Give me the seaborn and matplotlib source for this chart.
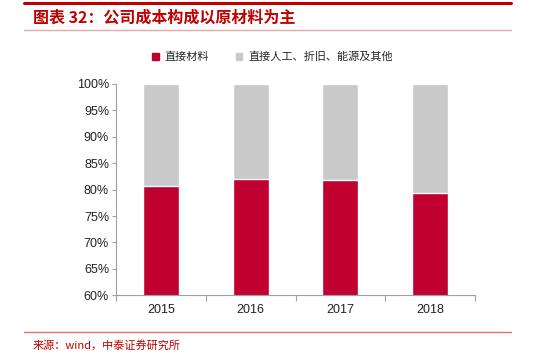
import matplotlib
matplotlib.use("Agg")
import matplotlib.pyplot as plt
import seaborn as sns
import pandas as pd
from matplotlib.lines import Line2D
from matplotlib.patches import Patch

years = ["2015", "2016", "2017", "2018"]
material = [80.7, 82.1, 81.9, 79.4]
total = [100, 100, 100, 100]
series_names = ["直接材料", "直接人工、折旧、能源及其他"]
yticks = [60, 65, 70, 75, 80, 85, 90, 95, 100]

sns.set_theme(style="white")
plt.rcParams['font.family'] = ['Liberation Sans', 'Noto Sans CJK SC', 'DejaVu Sans']

RED = "#C00030"
GREY = "#C9C9C9"

fig = plt.figure(figsize=(5.45, 3.59), dpi=100)
ax = fig.add_axes([116/545, 1-295.3/359, (475-116)/545, (295.3-84)/359])

df = pd.DataFrame({"year": years, "material": material, "total": total})
sns.barplot(data=df, x="year", y="total", color=GREY, width=0.4, ax=ax, saturation=1)
sns.barplot(data=df, x="year", y="material", color=RED, width=0.4, ax=ax, saturation=1)

ax.set_ylim(60, 100)
ax.set_xlim(-0.5, 3.5)
ax.set_yticks(yticks)
ax.set_yticklabels([f"{v}%" for v in yticks], fontsize=9, color="#222222")
ax.set_xlabel("")
ax.set_ylabel("")
ax.set_xticks(range(len(years)))
ax.set_xticklabels(years, fontsize=9, color="#222222")
ax.tick_params(axis='x', which='major', length=0, pad=6)
ax.set_xticks([-0.5, 0.5, 1.5, 2.5, 3.5], minor=True)
ax.tick_params(axis='x', which='minor', length=4, color="#A0A0A0", width=0.8, bottom=True, direction='out')
ax.tick_params(axis='y', length=3, color="#A0A0A0", width=0.8, left=True, direction='out', pad=2)
for s in ["top", "right"]:
    ax.spines[s].set_visible(False)
for s in ["left", "bottom"]:
    ax.spines[s].set_color("#A0A0A0")
    ax.spines[s].set_linewidth(0.8)

handles = [Patch(color=RED), Patch(color=GREY)]
fig.legend(handles, series_names, loc="center", bbox_to_anchor=(0.5, 1-57/359), ncol=2,
           frameon=False, prop={'family': ['Noto Sans CJK SC'], 'size': 8},
           handlelength=0.6, handleheight=0.6, columnspacing=2.4, handletextpad=0.5)

# decorative lines
fig.add_artist(Line2D([24/545, 511/545], [1-3/359, 1-3/359], color="#C00000", lw=2.2))
fig.add_artist(Line2D([24/545, 511/545], [1-29.5/359, 1-29.5/359], color="#E8A8A8", lw=1.0))
fig.add_artist(Line2D([24/545, 511/545], [1-332/359, 1-332/359], color="#E07070", lw=1.0))

fig.text(33/545, 1-18/359, "图表 32：公司成本构成以原材料为主", color="#C00000", fontsize=11.5,
         fontweight='bold', fontstyle='italic', va='center', ha='left',
         family=['Noto Sans CJK SC', 'DejaVu Sans'])
fig.text(33/545, 1-345/359, "来源：wind，中泰证券研究所", color="#C00000", fontsize=8,
         va='center', ha='left', family=['Noto Sans CJK SC', 'DejaVu Sans'])

fig.savefig("out.png", dpi=100)
